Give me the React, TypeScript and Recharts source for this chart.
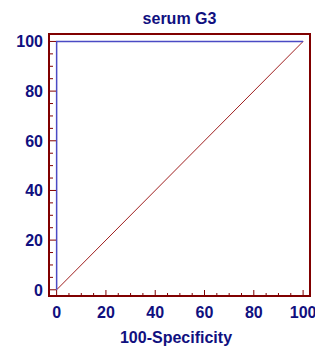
import React from "react";
import { ComposedChart, Line, XAxis, YAxis, ReferenceArea } from "recharts";

const rocCurve = [
  { x: 0, y: 0 },
  { x: 0, y: 100 },
  { x: 100, y: 100 },
];
const diagonal = [
  { x: 0, y: 0 },
  { x: 100, y: 100 },
];
const tickValues = [0, 5, 10, 15, 20, 25, 30, 35, 40, 45, 50, 55, 60, 65, 70, 75, 80, 85, 90, 95, 100];
const majorLabels = [0, 20, 40, 60, 80, 100];
const title = "serum G3";
const xLabel = "100-Specificity";

const X_DOMAIN: [number, number] = [-3.1, 102.8];
const Y_DOMAIN: [number, number] = [-2.5, 103];
const NAVY = "#10107f";
const FRAME = "#800000";
const FONT = "'Liberation Sans', Arial, sans-serif";

const YTick = (props: any) => {
  const { x, y, payload } = props;
  const v = payload.value;
  const major = majorLabels.includes(v);
  return (
    <g>
      <line x1={x} x2={x + (major ? 7 : 4)} y1={y} y2={y} stroke={FRAME} strokeWidth={1} />
      {major && (
        <text x={x - 6} y={y} dy={6} textAnchor="end" fill={NAVY} fontSize={16} fontWeight="bold" fontFamily={FONT}>
          {v}
        </text>
      )}
    </g>
  );
};

const XTick = (props: any) => {
  const { x, y, payload } = props;
  const v = payload.value;
  const major = majorLabels.includes(v);
  return (
    <g>
      <line x1={x} x2={x} y1={y} y2={y - (major ? 6 : 3)} stroke={FRAME} strokeWidth={1} />
      {major && (
        <text x={x} y={y + 22} textAnchor="middle" fill={NAVY} fontSize={16} fontWeight="bold" fontFamily={FONT}>
          {v}
        </text>
      )}
    </g>
  );
};

export default function App() {
  return (
    <div style={{ position: "absolute", left: 0, top: 0 }}>
      <ComposedChart width={315} height={346} margin={{ top: 34, right: 5, bottom: 0, left: 0 }}>
        <XAxis
          dataKey="x"
          type="number"
          domain={X_DOMAIN}
          ticks={tickValues}
          interval={0}
          allowDataOverflow
          height={50}
          tickSize={0}
          tickMargin={0}
          axisLine={false}
          tickLine={false}
          tick={<XTick />}
        />
        <YAxis
          dataKey="y"
          type="number"
          domain={Y_DOMAIN}
          ticks={tickValues}
          interval={0}
          allowDataOverflow
          width={49}
          tickSize={0}
          tickMargin={0}
          axisLine={false}
          tickLine={false}
          tick={<YTick />}
        />
        <Line
          data={diagonal}
          dataKey="y"
          type="linear"
          stroke="#a02020"
          strokeWidth={1}
          dot={false}
          isAnimationActive={false}
        />
        <Line
          data={rocCurve}
          dataKey="y"
          type="linear"
          stroke="#4a4ac4"
          strokeWidth={1.5}
          dot={false}
          isAnimationActive={false}
        />
        <ReferenceArea
          x1={X_DOMAIN[0]}
          x2={X_DOMAIN[1]}
          y1={Y_DOMAIN[0]}
          y2={Y_DOMAIN[1]}
          fill="none"
          stroke={FRAME}
          strokeWidth={2}
          ifOverflow="visible"
        />
        <text x={179.5} y={24} textAnchor="middle" fill={NAVY} fontSize={16} fontWeight="bold" fontFamily={FONT}>
          {title}
        </text>
        <text x={176} y={343} textAnchor="middle" fill={NAVY} fontSize={16} fontWeight="bold" fontFamily={FONT}>
          {xLabel}
        </text>
      </ComposedChart>
    </div>
  );
}
